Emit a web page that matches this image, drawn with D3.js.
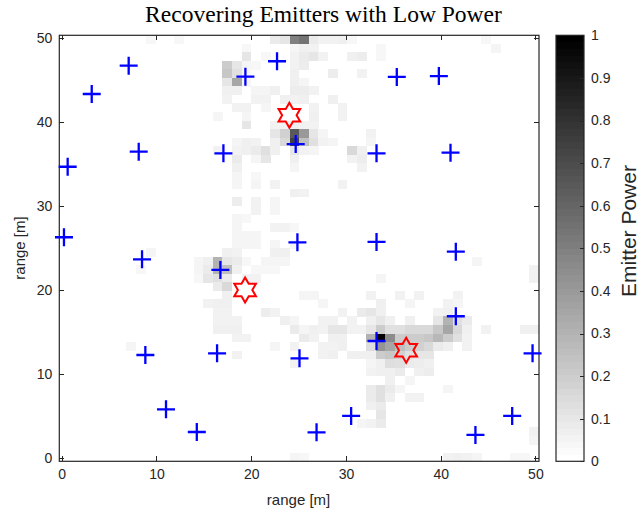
<!DOCTYPE html>
<html><head><meta charset="utf-8">
<script src="https://cdn.jsdelivr.net/npm/d3@7"></script>
<style>
body{margin:0;background:#fff}
svg{display:block}
.ax text{font-family:"Liberation Sans",Arial,sans-serif;font-size:14px;fill:#262626}
.ax path,.ax line{stroke:#262626;stroke-width:1;shape-rendering:crispEdges}
</style>
</head><body>
<svg id="c" width="643" height="519"></svg>
<script>
// ---------- data ----------
const title = "Recovering Emitters with Low Power";
const xLabel = "range [m]";
const yLabel = "range [m]";
const cbLabel = "Emitter Power";
const xTicks = [0, 10, 20, 30, 40, 50];
const yTicks = [0, 10, 20, 30, 40, 50];
const cbTicks = [0, 0.1, 0.2, 0.3, 0.4, 0.5, 0.6, 0.7, 0.8, 0.9, 1];
const gridN = 50;                 // 50 x 50 image cells
const xLim = [-0.253, 50.38];
const yLim = [-0.393, 50.285];
// recovered power image: [column, rowFromTop, value]; unlisted cells are 0
const cells = [
 [9,0,.03],[12,0,.03],[22,0,.08],[23,0,.1],[24,0,.5],[25,0,.55],[26,0,.08],[27,0,.05],[28,0,.05],[29,0,.06],[30,0,.03],[44,0,.03],
 [19,1,.03],[24,1,.04],[25,1,.06],[26,1,.05],[33,1,.03],[45,1,.04],
 [19,2,.1],[21,2,.03],[24,2,.05],[25,2,.08],[26,2,.1],[27,2,.05],[30,2,.06],[31,2,.07],[33,2,.03],
 [17,3,.2],[18,3,.1],[19,3,.04],[20,3,.03],[24,3,.05],[25,3,.07],
 [17,4,.22],[18,4,.12],[19,4,.03],[24,4,.06],[28,4,.07],[31,4,.05],
 [17,5,.1],[18,5,.35],[19,5,.04],[24,5,.06],[25,5,.04],
 [17,6,.06],[18,6,.06],[20,6,.04],[21,6,.04],[22,6,.06],[24,6,.07],[25,6,.07],[26,6,.05],
 [17,7,.05],[20,7,.05],[21,7,.05],[23,7,.06],[24,7,.05],[25,7,.06],[28,7,.06],
 [18,8,.05],[19,8,.05],[21,8,.04],[26,8,.05],[29,8,.05],
 [16,9,.04],[19,9,.04],[26,9,.06],[29,9,.05],
 [19,10,.1],[22,10,.05],[23,10,.05],[24,10,.06],[25,10,.05],[26,10,.05],
 [22,11,.1],[23,11,.18],[24,11,.65],[25,11,.4],[26,11,.1],[27,11,.04],[32,11,.05],
 [18,12,.04],[19,12,.06],[20,12,.05],[22,12,.06],[23,12,.15],[24,12,.75],[25,12,.25],[26,12,.12],[27,12,.05],[28,12,.04],[32,12,.04],
 [16,13,.05],[18,13,.05],[19,13,.06],[20,13,.08],[21,13,.12],[22,13,.06],[24,13,.1],[25,13,.05],[26,13,.04],[30,13,.15],[31,13,.06],
 [18,14,.08],[20,14,.04],[21,14,.1],[24,14,.06],[30,14,.05],[31,14,.07],
 [18,15,.06],[24,15,.04],[31,15,.05],
 [18,16,.04],[20,16,.03],
 [18,17,.04],[20,17,.04],[22,17,.05],[29,17,.05],
 [24,18,.06],[25,18,.05],
 [18,19,.07],[20,19,.05],[22,19,.04],
 [20,20,.05],[22,20,.04],
 [18,21,.04],[19,21,.03],
 [18,22,.04],[22,22,.05],[23,22,.05],[24,22,.03],
 [18,23,.04],[19,23,.04],[20,23,.04],
 [18,24,.04],[19,24,.04],[20,24,.04],[22,24,.04],[24,24,.04],
 [9,25,.04],[17,25,.06],[18,25,.05],[22,25,.06],[23,25,.06],
 [14,26,.04],[15,26,.06],[16,26,.3],[17,26,.1],[18,26,.08],[19,26,.03],[21,26,.04],[22,26,.04],[23,26,.04],[43,26,.04],
 [8,27,.03],[14,27,.04],[15,27,.08],[16,27,.3],[17,27,.25],[18,27,.06],[20,27,.03],[21,27,.03],[22,27,.03],[49,27,.05],
 [14,28,.03],[15,28,.1],[16,28,.12],[17,28,.08],[19,28,.05],[20,28,.05],[33,28,.04],[49,28,.05],
 [16,29,.08],[17,29,.15],
 [17,30,.06],[25,30,.04],[26,30,.04],[32,30,.05],[35,30,.05],[37,30,.05],[41,30,.05],
 [15,31,.05],[16,31,.06],[17,31,.06],[27,31,.04],[33,31,.06],[36,31,.04],[40,31,.05],[41,31,.04],
 [16,32,.05],[17,32,.05],[21,32,.07],[22,32,.05],[29,32,.05],[31,32,.08],[32,32,.1],[33,32,.06],[39,32,.05],[40,32,.06],
 [16,33,.05],[17,33,.05],[18,33,.05],[23,33,.06],[24,33,.04],[27,33,.05],[28,33,.05],[30,33,.05],[32,33,.06],[33,33,.1],[34,33,.06],[36,33,.06],[39,33,.1],[40,33,.3],[41,33,.12],[42,33,.08],
 [16,34,.06],[17,34,.06],[18,34,.06],[24,34,.08],[25,34,.04],[26,34,.06],[27,34,.05],[28,34,.1],[29,34,.1],[30,34,.05],[31,34,.05],[32,34,.1],[33,34,.2],[34,34,.12],[35,34,.12],[36,34,.15],[37,34,.15],[38,34,.15],[39,34,.22],[40,34,.35],[41,34,.15],[42,34,.06],[44,34,.05],[48,34,.06],[49,34,.06],
 [18,35,.05],[19,35,.05],[25,35,.08],[26,35,.05],[28,35,.06],[29,35,.06],[32,35,.3],[33,35,1],[34,35,.45],[35,35,.2],[36,35,.2],[37,35,.2],[38,35,.22],[39,35,.28],[40,35,.2],[41,35,.12],[42,35,.05],
 [7,36,.04],[22,36,.04],[24,36,.05],[27,36,.05],[28,36,.05],[29,36,.06],[32,36,.13],[33,36,.42],[34,36,.35],[35,36,.25],[36,36,.2],[37,36,.18],[38,36,.15],[39,36,.08],[40,36,.06],[42,36,.05],
 [18,37,.05],[27,37,.05],[28,37,.06],[30,37,.06],[31,37,.06],[32,37,.06],[33,37,.2],[34,37,.22],[35,37,.18],[36,37,.12],[37,37,.1],[38,37,.1],
 [24,38,.05],[32,38,.04],[33,38,.06],[34,38,.13],[35,38,.12],[36,38,.08],[37,38,.07],[38,38,.06],
 [32,39,.05],[33,39,.06],[34,39,.06],[35,39,.08],[37,39,.06],[38,39,.07],
 [34,40,.06],[36,40,.04],
 [32,41,.08],[33,41,.12],[34,41,.08],[35,41,.04],[40,41,.04],
 [32,42,.08],[33,42,.12],[34,42,.06],[36,42,.05],[37,42,.05],
 [32,43,.06],[33,43,.08],
 [33,44,.1],
 [31,45,.04],[32,45,.05],[33,45,.08],
 [49,46,.05],[49,47,.04],
 [24,49,.04],[25,49,.03],[40,49,.05],[41,49,.06],[42,49,.05],[43,49,.04],[47,49,.03],[48,49,.03]
];
// sensor positions (blue +)
const sensorX = [7.07,3.17,19.39,22.73,24.7,8.13,17.07,0.63,0.24,24.88,35.37,39.81,33.23,41.04,33.23,41.6,8.48,16.75,8.83,16.4,25.1,11.01,14.26,33.23,41.6,49.7,30.55,26.9,43.67,47.55];
const sensorY = [46.67,43.3,45.36,47.2,37.35,36.44,36.25,34.65,26.26,25.66,45.33,45.44,36.25,36.32,25.7,24.55,23.64,22.37,12.25,12.45,11.86,5.79,3.09,13.92,16.86,12.45,5.0,3.05,2.74,5.0];
// true emitter positions (red hexagram)
const emitterX = [24.03, 19.36, 36.36];
const emitterY = [40.77, 20.0, 12.81];

// ---------- layout ----------
const svg = d3.select("#c");
const L = 59.3, R = 539, T = 35.3, B = 461.3;
const x = d3.scaleLinear().domain(xLim).range([L, R]);
const y = d3.scaleLinear().domain(yLim).range([B, T]);
const col = d3.scaleLinear().domain([0, 1]).range(["#ffffff", "#000000"]);
const cx = d3.scaleBand().domain(d3.range(gridN)).range([L, R]);
const cy = d3.scaleBand().domain(d3.range(gridN)).range([T, B]);

// image background
svg.append("rect").attr("x", L).attr("y", T).attr("width", R - L).attr("height", B - T).attr("fill", col(0));
svg.append("g").selectAll("rect").data(cells).join("rect")
  .attr("x", d => cx(d[0])).attr("y", d => cy(d[1]))
  .attr("width", cx.bandwidth() + 0.3).attr("height", cy.bandwidth() + 0.3)
  .attr("fill", d => col(d[2])).attr("shape-rendering", "crispEdges");

// axes
svg.append("g").attr("class", "ax").attr("transform", `translate(0,${B})`)
  .call(d3.axisBottom(x).tickValues(xTicks).tickSizeInner(-5).tickSizeOuter(0).tickPadding(8));
svg.append("g").attr("class", "ax").attr("transform", `translate(0,${T})`)
  .call(d3.axisTop(x).tickValues(xTicks).tickSizeInner(-5).tickSizeOuter(0).tickFormat(""));
svg.append("g").attr("class", "ax").attr("transform", `translate(${L},0)`)
  .call(d3.axisLeft(y).tickValues(yTicks).tickSizeInner(-5).tickSizeOuter(0).tickPadding(7));
svg.append("g").attr("class", "ax").attr("transform", `translate(${R},0)`)
  .call(d3.axisRight(y).tickValues(yTicks).tickSizeInner(-5).tickSizeOuter(0).tickFormat(""));
svg.selectAll(".ax .domain").remove();
svg.append("rect").attr("x", L).attr("y", T).attr("width", R - L).attr("height", B - T)
  .attr("fill", "none").attr("stroke", "#262626").attr("stroke-width", 1.2);

// sensors
svg.append("g").selectAll("path").data(sensorX).join("path")
  .attr("transform", (d, i) => `translate(${x(d)},${y(sensorY[i])})`)
  .attr("d", "M-9,0H9M0,-9V9")
  .attr("stroke", "#0000ff").attr("stroke-width", 2.3).attr("fill", "none");

// emitters (hexagram)
const Ro = 12.5, Ri = Ro / Math.sqrt(3);
const hexPts = d3.range(12).map(k => {
  const a = -Math.PI / 2 + k * Math.PI / 6, r = k % 2 ? Ri : Ro;
  return [r * Math.cos(a), r * Math.sin(a)];
});
svg.append("g").selectAll("path").data(emitterX).join("path")
  .attr("transform", (d, i) => `translate(${x(d)},${y(emitterY[i])})`)
  .attr("d", d3.line()(hexPts) + "Z")
  .attr("stroke", "#ff0000").attr("stroke-width", 2).attr("fill", "none").attr("stroke-linejoin", "miter");

// colorbar
const CL = 556, CR = 584;
const cb = d3.scaleLinear().domain([0, 1]).range([B, T]);
const steps = d3.range(64);
svg.append("g").selectAll("rect").data(steps).join("rect")
  .attr("x", CL).attr("width", CR - CL)
  .attr("y", d => cb((d + 1) / 64)).attr("height", (B - T) / 64 + 0.5)
  .attr("fill", d => col(d / 63)).attr("shape-rendering", "crispEdges");
svg.append("g").attr("class", "ax").attr("transform", `translate(${CR},0)`)
  .call(d3.axisRight(cb).tickValues(cbTicks).tickSizeInner(-4).tickSizeOuter(0).tickPadding(7).tickFormat(d3.format("~g")))
  .select(".domain").remove();
svg.append("rect").attr("x", CL).attr("y", T).attr("width", CR - CL).attr("height", B - T)
  .attr("fill", "none").attr("stroke", "#262626").attr("stroke-width", 1.2);

// labels
svg.append("text").attr("x", x(25)).attr("y", 505).attr("text-anchor", "middle")
  .style("font-family", "'Liberation Sans',Arial,sans-serif").style("font-size", "15px").style("fill", "#262626").text(xLabel);
svg.append("text").attr("transform", "translate(25,248) rotate(-90)").attr("text-anchor", "middle")
  .style("font-family", "'Liberation Sans',Arial,sans-serif").style("font-size", "15px").style("fill", "#262626").text(yLabel);
svg.append("text").attr("transform", "translate(636,231) rotate(-90)").attr("text-anchor", "middle")
  .style("font-family", "'Liberation Sans',Arial,sans-serif").style("font-size", "21px").style("fill", "#262626").text(cbLabel);
const tt = svg.append("text").attr("x", 323.5).attr("y", 22).attr("text-anchor", "middle")
  .style("font-family", "'Liberation Serif','Times New Roman',serif").style("font-size", "22px").style("fill", "#000").text(title);
const w = tt.node().getComputedTextLength();
tt.style("font-size", (22 * 357 / w).toFixed(2) + "px");
</script>
</body></html>
